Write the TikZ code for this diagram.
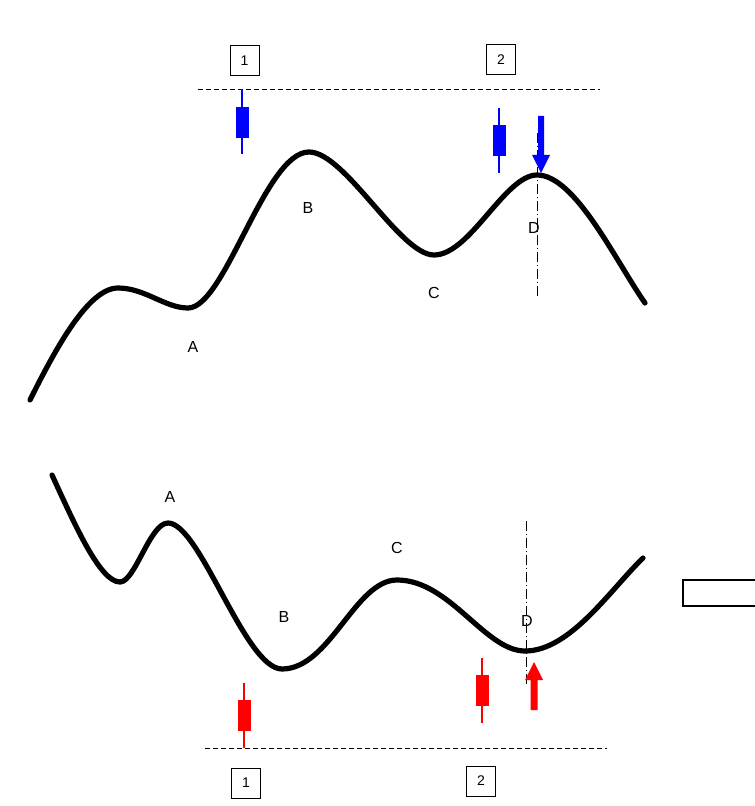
\documentclass[tikz,border=0pt]{standalone}
\usepackage{fontspec}
\setmainfont{Liberation Sans}
\begin{document}
\begin{tikzpicture}[x=0.75pt,y=-0.75pt,
  curve/.style={line width=3.9pt, line cap=round, line join=round},
  lbl/.style={font=\fontsize{12pt}{14pt}\selectfont, inner sep=0pt},
  numbox/.style={draw, line width=0.75pt, minimum width=21.75pt, minimum height=22.5pt, inner sep=0pt, font=\fontsize{10.5pt}{12pt}\selectfont},
  guide/.style={line width=0.75pt, dash pattern=on 3.75pt off 2.25pt},
  vdash/.style={line width=0.75pt, dash pattern=on 7.5pt off 2.25pt on 0.75pt off 2.25pt},
  wick/.style={line width=1.5pt},
]
\useasboundingbox (0,0) rectangle (754,806);
\fill[white] (0,0) rectangle (754,806);

% ---------- top panel ----------
\draw[curve] (30,400) .. controls (55,350) and (88,288) .. (118,288)
  .. controls (145,288) and (165,308) .. (188,308)
  .. controls (225,308) and (265,152) .. (309,152)
  .. controls (345,152) and (400,255) .. (434,255)
  .. controls (470,255) and (505,175) .. (537,175)
  .. controls (575,175) and (615,260) .. (645,303);

\node[lbl] (tA) at (193,347) {A};
\node[lbl] (tB) at (308,208) {B};
\node[lbl] (tC) at (434,293) {C};
\node[lbl] (tD) at (534,228) {D};

\node[numbox] (t1) at (244.5,61) {1};
\node[numbox] (t2) at (501,59.5) {2};

\coordinate (tl0) at (198,89.5);
\coordinate (tl1) at (600,89.5);
\draw[guide] (tl0) -- (tl1);

% blue candles
\coordinate (tc1a) at (242,89); \coordinate (tc1b) at (242,154);
\draw[wick, blue] (tc1a) -- (tc1b);
\fill[blue] (235.5,107) rectangle (248.5,138);
\coordinate (tc2a) at (499,108); \coordinate (tc2b) at (499,173);
\draw[wick, blue] (tc2a) -- (tc2b);
\fill[blue] (492.5,125) rectangle (505.5,156);

% vertical dash-dot
\coordinate (tv0) at (537,133); \coordinate (tv1) at (537,297);
\draw[vdash] (tv0) -- (tv1);

% blue arrow down
\fill[blue] (538,116) -- (544,116) -- (544,155) -- (550,155) -- (541,173) -- (532,155) -- (538,155) -- cycle;

% ---------- bottom panel ----------
\draw[curve] (52,475) .. controls (75,525) and (100,582) .. (120,582)
  .. controls (135,582) and (150,523) .. (168,523)
  .. controls (200,523) and (245,669) .. (282,669)
  .. controls (330,669) and (355,580) .. (397,580)
  .. controls (450,580) and (485,651) .. (525,651)
  .. controls (570,651) and (610,590) .. (643,558);

\node[lbl] (bA) at (170,497) {A};
\node[lbl] (bB) at (284,617) {B};
\node[lbl] (bC) at (397,548) {C};
\node[lbl] (bD) at (527,621) {D};

\node[numbox] (b1) at (246,783) {1};
\node[numbox] (b2) at (481,781) {2};

\coordinate (bl0) at (205,748);
\coordinate (bl1) at (607,748);
\draw[guide] (bl0) -- (bl1);

% red candles
\coordinate (bc1a) at (244,683); \coordinate (bc1b) at (244,748);
\draw[wick, red] (bc1a) -- (bc1b);
\fill[red] (237.5,700) rectangle (250.5,731);
\coordinate (bc2a) at (482,658); \coordinate (bc2b) at (482,723);
\draw[wick, red] (bc2a) -- (bc2b);
\fill[red] (475.5,675) rectangle (488.5,706);

% vertical dash-dot
\coordinate (bv0) at (526,521); \coordinate (bv1) at (526,685);
\draw[vdash] (bv0) -- (bv1);

% red arrow up
\fill[red] (530.5,710) -- (537.5,710) -- (537.5,680) -- (543,680) -- (534,662) -- (525,680) -- (530.5,680) -- cycle;

% right rectangle (cut by the edge)
\draw[line width=1.5pt] (760,580) -- (682.5,580) -- (682.5,606) -- (760,606);
\end{tikzpicture}
\end{document}
